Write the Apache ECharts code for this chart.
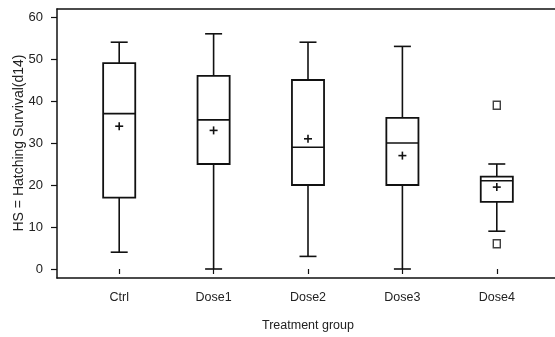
<!DOCTYPE html>
<html>
<head>
<meta charset="utf-8">
<script src="https://cdn.jsdelivr.net/npm/echarts@6/dist/echarts.min.js"></script>
<style>
  html, body { margin: 0; padding: 0; background: #fff; }
  #chart { width: 555px; height: 337px; }
</style>
</head>
<body>
<div id="chart"></div>
<script>
// box data per group
var groups = ['Ctrl', 'Dose1', 'Dose2', 'Dose3', 'Dose4'];
var whiskerLow = [4, 0, 3, 0, 9];
var q1 = [17, 25, 20, 20, 16];
var median = [37, 35.5, 29, 30, 21];
var q3 = [49, 46, 45, 36, 22];
var whiskerHigh = [54, 56, 54, 53, 25];
var means = [34, 33, 31, 27, 19.5];
// outliers: [group index, value]
var outliers = [[4, 39], [4, 6]];

var yTicks = [0, 10, 20, 30, 40, 50, 60];

var ink = '#111';
var txt = '#222';
var font = 'Liberation Sans, Arial, sans-serif';

var boxData = groups.map(function (g, i) {
    return [i, whiskerLow[i], q1[i], median[i], q3[i], whiskerHigh[i], means[i]];
});

function renderBox(params, api) {
    var i = api.value(0);
    var cx = api.coord([i, 0])[0];
    var band = api.size([1, 0])[0];
    var hw = band * 0.17;   // half box width
    var cw = band * 0.09;   // half cap width
    var y = function (v) { return api.coord([i, v])[1]; };
    var yLo = y(api.value(1)), yQ1 = y(api.value(2)), yMed = y(api.value(3));
    var yQ3 = y(api.value(4)), yHi = y(api.value(5)), yMean = y(api.value(6));
    var st = { stroke: ink, lineWidth: 1.6, fill: null };
    var ms = 4;
    return {
        type: 'group',
        children: [
            { type: 'rect', shape: { x: cx - hw, y: yQ3, width: hw * 2, height: yQ1 - yQ3 }, style: { stroke: ink, lineWidth: 1.8, fill: 'none' } },
            { type: 'line', shape: { x1: cx - hw, y1: yMed, x2: cx + hw, y2: yMed }, style: st },
            { type: 'line', shape: { x1: cx, y1: yQ3, x2: cx, y2: yHi }, style: st },
            { type: 'line', shape: { x1: cx, y1: yQ1, x2: cx, y2: yLo }, style: st },
            { type: 'line', shape: { x1: cx - cw, y1: yHi, x2: cx + cw, y2: yHi }, style: st },
            { type: 'line', shape: { x1: cx - cw, y1: yLo, x2: cx + cw, y2: yLo }, style: st },
            { type: 'line', shape: { x1: cx - ms, y1: yMean, x2: cx + ms, y2: yMean }, style: st },
            { type: 'line', shape: { x1: cx, y1: yMean - ms, x2: cx, y2: yMean + ms }, style: st }
        ]
    };
}

var frameAxis = function (pos) {
    return {
        gridIndex: 0, type: 'value', min: 0, max: 1, position: pos,
        axisLine: { show: true, lineStyle: { color: ink, width: 1.5 } },
        axisTick: { show: false }, axisLabel: { show: false }, splitLine: { show: false }
    };
};

var option = {
    animation: false,
    backgroundColor: '#fff',
    grid: [
        // frame (open on the right)
        { left: 57, right: 0, top: 9, bottom: 59 },
        // data area
        { left: 72, right: 11, top: 17, bottom: 65 }
    ],
    xAxis: [
        frameAxis('bottom'),
        frameAxis('top'),
        {
            gridIndex: 1,
            type: 'category',
            data: groups,
            offset: 6,
            axisLine: { show: false },
            axisTick: { show: true, alignWithLabel: true, length: 5, lineStyle: { color: ink, width: 1.2 } },
            axisLabel: { color: txt, fontFamily: font, fontSize: 12.5, margin: 16 },
            name: 'Treatment group',
            nameLocation: 'middle',
            nameGap: 44,
            nameMoveOverlap: false,
            nameTextStyle: { color: txt, fontFamily: font, fontSize: 12.5 }
        }
    ],
    yAxis: [
        frameAxis('left'),
        {
            gridIndex: 1,
            type: 'value',
            min: 0,
            max: 60,
            interval: 10,
            offset: 15,
            axisLine: { show: false },
            axisTick: { show: true, length: 6, lineStyle: { color: ink, width: 1.2 } },
            splitLine: { show: false },
            axisLabel: {
                color: txt, fontFamily: font, fontSize: 13, margin: 14,
                formatter: function (v) { return yTicks.indexOf(v) >= 0 ? String(v) : ''; }
            },
            name: 'HS = Hatching Survival(d14)',
            nameLocation: 'middle',
            nameGap: 31,
            nameMoveOverlap: false,
            nameTextStyle: { color: txt, fontFamily: font, fontSize: 14 }
        }
    ],
    series: [
        {
            type: 'custom',
            xAxisIndex: 2,
            yAxisIndex: 1,
            renderItem: renderBox,
            data: boxData
        },
        {
            type: 'scatter',
            xAxisIndex: 2,
            yAxisIndex: 1,
            symbol: 'rect',
            symbolSize: [7, 8],
            itemStyle: { color: '#fff', borderColor: ink, borderWidth: 1.5 },
            data: outliers
        }
    ]
};

var chart = echarts.init(document.getElementById('chart'), null, { renderer: 'canvas' });
chart.setOption(option);
window.addEventListener('resize', function () {
    chart.resize();
});
</script>
</body>
</html>
